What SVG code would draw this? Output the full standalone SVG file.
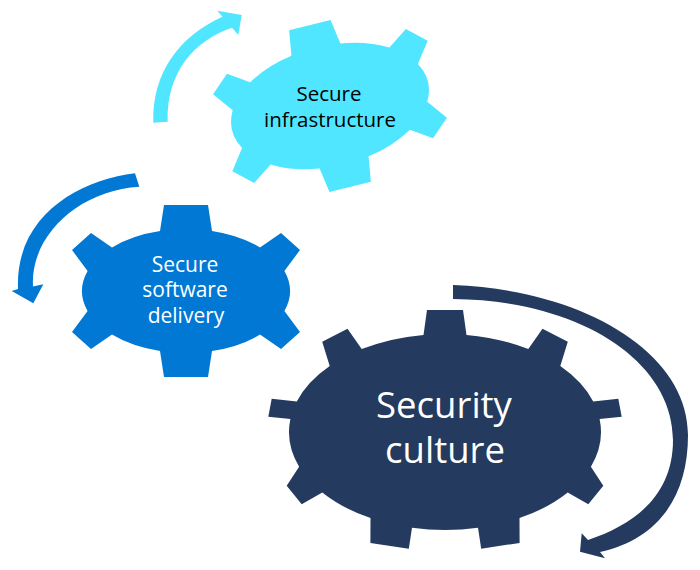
<svg xmlns="http://www.w3.org/2000/svg" width="700" height="570" viewBox="0 0 700 570">
  <style>
    .lbl { font-family: "Open Sans", "Noto Sans", "Liberation Sans", sans-serif; text-anchor: middle; }
    .light { fill: #50E6FF; }
    .blue { fill: #0078D4; }
    .dark { fill: #243A5E; }
  </style>
  <defs>
    <path id="gear6" d="M -26,-60 L -22,-86 L 22,-86 L 26,-60 A 104 62 0 0 1 74,-43.6 L 95,-58 L 114,-41 L 98.4,-20 A 104 62 0 0 1 98.4,20 L 114,41 L 95,58 L 74,43.6 A 104 62 0 0 1 26,60 L 22,86 L -22,86 L -26,60 A 104 62 0 0 1 -74,43.6 L -95,58 L -114,41 L -98.4,20 A 104 62 0 0 1 -98.4,-20 L -114,-41 L -95,-58 L -74,-43.6 A 104 62 0 0 1 -26,-60 Z"/>
  </defs>
  <rect width="700" height="570" fill="#ffffff"/>
  <g id="connectors">
    <path id="arrow-infra" class="light" d="M 153.3,122.7 C 152,72 180,36 222.5,16.8 L 217.3,10.7 L 241.7,15 L 238.3,35 L 232,27.7 C 195,40 166,72 167.7,121.7 Z"/>
    <path id="arrow-delivery" class="blue" d="M 135,173.3 C 80,180 15,215 18,289 L 11.7,291 L 33.3,303.3 L 43.3,284.3 L 33,286.5 C 30,235 80,190 139.3,186.7 Z"/>
    <path id="arrow-culture" class="dark" d="M 453,285 C 583,290 688,352 688,435 C 688,500 655,540 600,552 L 605,558.3 L 580,551.7 L 581.7,533.3 L 588,540 C 635.5,524 673,495 673,440 C 673,360 578,300 453,299 Z"/>
  </g>
  <g id="node-infra">
    <use href="#gear6" class="light" transform="translate(330,106) rotate(-14) scale(0.97)"/>
    <text class="lbl" x="329" y="101.3" font-size="20.5" fill="#000000">Secure</text>
    <text class="lbl" x="330" y="126.6" font-size="20.5" fill="#000000">infrastructure</text>
  </g>
  <g id="node-delivery">
    <use href="#gear6" class="blue" transform="translate(186,291)"/>
    <text class="lbl" x="185" y="271.5" font-size="21" fill="#ffffff">Secure</text>
    <text class="lbl" x="185" y="297" font-size="21" fill="#ffffff">software</text>
    <text class="lbl" x="186" y="322.5" font-size="21" fill="#ffffff">delivery</text>
  </g>
  <g id="node-culture">
    <path class="dark" transform="translate(445,432)" d="M -21.5,-97.1 L -18,-122 L 18,-122 L 21.5,-97.1 A 156 98 0 0 1 83.3,-82.9 L 97.5,-103.2 L 122.8,-90.3 L 115.3,-66 A 156 98 0 0 1 148.2,-30.5 L 173.3,-33.3 L 176.7,-15.2 L 154.6,-12.9 A 156 98 0 0 1 145.9,34.7 L 158.3,53.8 L 143.3,72.2 L 122.7,60.5 A 156 98 0 0 1 74.5,86.1 L 74.6,110.9 L 36.2,116.7 L 33,95.8 A 156 98 0 0 1 -33,95.8 L -36.2,116.7 L -74.6,110.9 L -74.5,86.1 A 156 98 0 0 1 -122.7,60.5 L -143.3,72.2 L -158.3,53.8 L -145.9,34.7 A 156 98 0 0 1 -154.6,-12.9 L -176.7,-15.2 L -173.3,-33.3 L -148.2,-30.5 A 156 98 0 0 1 -115.3,-66 L -122.8,-90.3 L -97.5,-103.2 L -83.3,-82.9 A 156 98 0 0 1 -21.5,-97.1 Z"/>
    <text class="lbl" x="444" y="417.8" font-size="36.5" fill="#ffffff">Security</text>
    <text class="lbl" x="445" y="462.8" font-size="36.5" fill="#ffffff">culture</text>
  </g>
</svg>
